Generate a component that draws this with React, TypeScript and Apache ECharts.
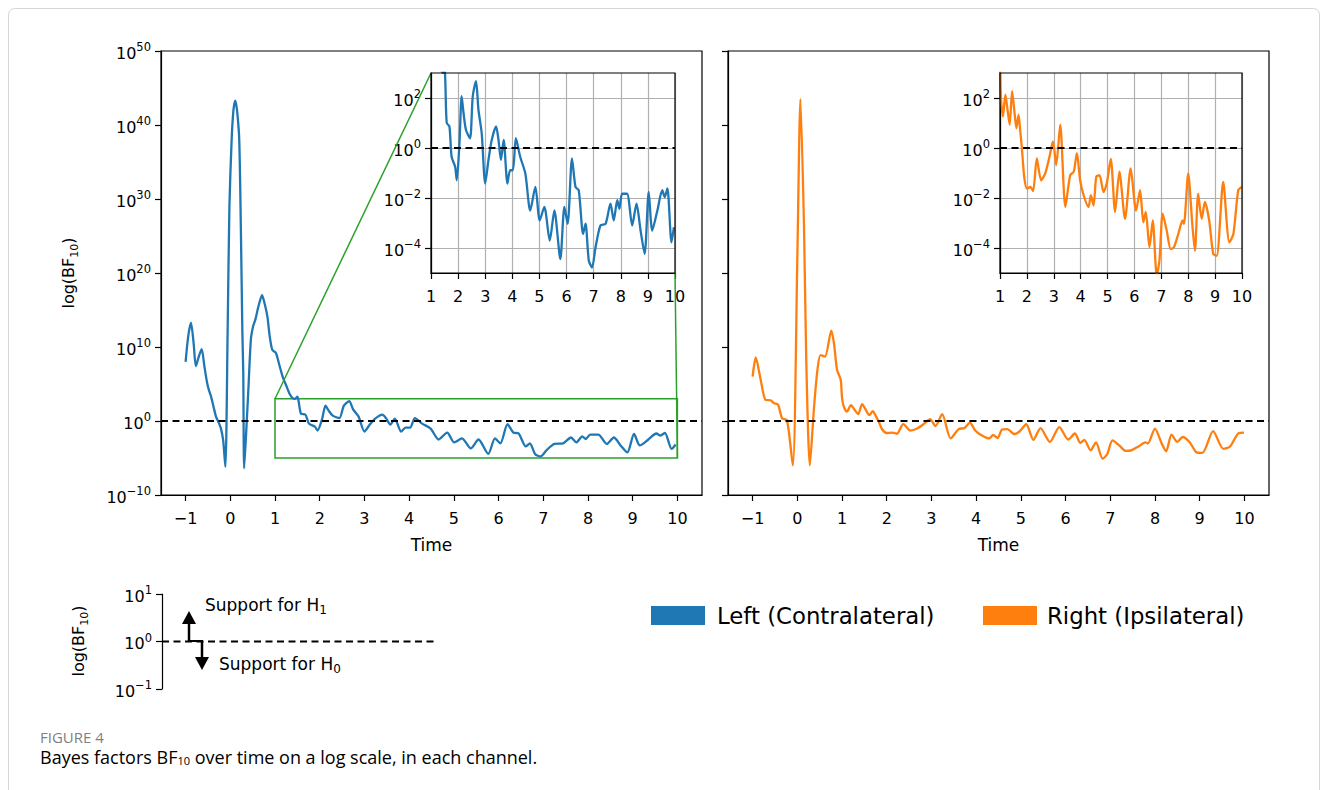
import React, { useEffect, useRef } from "react";
import * as echarts from "echarts";

// ---- data (log10 of BF10 over time) ----
const leftTime = [
  -1.0, -0.94, -0.88, -0.82, -0.77, -0.7, -0.64, -0.58, -0.52, -0.48, -0.43, -0.37, -0.32, -0.26, -0.21, -0.16,
  -0.11, -0.06, -0.02, 0.03, 0.07, 0.11, 0.15, 0.2, 0.24, 0.27, 0.29, 0.31, 0.36, 0.41, 0.46, 0.51, 0.56, 0.63,
  0.71, 0.77, 0.83, 0.88, 0.94, 1.02, 1.1, 1.17, 1.25, 1.32, 1.39, 1.45, 1.5, 1.53, 1.58, 1.68, 1.76, 1.89, 1.95,
  2.05, 2.13, 2.2, 2.29, 2.44, 2.54, 2.66, 2.75, 2.87, 3.0, 3.12, 3.24, 3.4, 3.49, 3.58, 3.68, 3.82, 3.92, 4.02,
  4.13, 4.29, 4.48, 4.66, 4.85, 5.01, 5.18, 5.38, 5.55, 5.77, 5.92, 6.04, 6.2, 6.33, 6.45, 6.61, 6.7, 6.82, 6.94,
  7.07, 7.25, 7.44, 7.62, 7.74, 7.87, 7.95, 8.05, 8.23, 8.42, 8.58, 8.73, 8.88, 9.03, 9.16, 9.35, 9.53, 9.62,
  9.72, 9.87, 9.96,
];
const leftLogBF = [
  8.0, 11.5, 13.3, 10.5, 7.4, 8.8, 9.7, 7.4, 5.2, 4.2, 3.3, 1.8, 0.6, -0.2, -1.0, -2.6,
  -6.2, 12, 29, 38, 42, 43.3, 42, 38, 24.5, 12, 6.5, -6.4, -1, 5, 11, 12.8, 13.7, 15.5,
  17, 15.8, 14.1, 11.5, 9.6, 9.2, 7.5, 6, 4.8, 3.75, 3.1, 3.0, 3.3, 2.6, 1.0, 0.86, -0.35, -0.75, -1.29,
  0.19, 2.07, 1.4, 0.72, 0.39, 2.07, 2.67, 1.53, 0.59, -1.42, -0.48, 0.32, 0.86, 0.32, -0.48, 0.32, -1.42, -0.89, -0.89,
  0.39, -0.35, -1.02, -2.5, -1.56, -2.9, -2.36, -3.7, -2.5, -4.44, -2.36, -3.03, -0.42, -1.56, -1.69, -3.44, -3.03, -4.5, -4.78,
  -3.97, -3.1, -3.03, -2.23, -2.9, -2.09, -2.43, -1.83, -1.83, -3.1, -2.23, -3.3, -4.24, -1.76, -3.3, -2.5, -1.69, -1.96,
  -1.62, -3.77, -3.17,
];
const rightTime = [
  -1.0, -0.93, -0.82, -0.71, -0.6, -0.52, -0.43, -0.34, -0.23, -0.1, 0.0, 0.07, 0.15, 0.2, 0.28, 0.37, 0.45, 0.52,
  0.62, 0.76, 0.82, 0.89, 0.97, 1.0, 1.04, 1.11, 1.2, 1.28, 1.36, 1.45, 1.53, 1.61, 1.69, 1.75, 1.82, 1.9, 2.0,
  2.13, 2.23, 2.37, 2.53, 2.68, 2.84, 2.97, 3.09, 3.24, 3.43, 3.61, 3.74, 3.86, 3.98, 4.11, 4.29, 4.38, 4.48,
  4.58, 4.7, 4.85, 4.97, 5.12, 5.28, 5.44, 5.65, 5.86, 6.06, 6.21, 6.33, 6.42, 6.56, 6.68, 6.83, 6.93, 7.05,
  7.2, 7.35, 7.47, 7.63, 7.79, 7.84, 8.0, 8.15, 8.25, 8.37, 8.5, 8.62, 8.78, 8.93, 9.06, 9.3, 9.53, 9.68, 9.86, 9.99,
];
const rightLogBF = [
  6.0, 8.6, 5.6, 2.85, 2.8, 2.4, 2.2, 0.36, 0.1, -6.0, 21.8, 43.5, 26.3, 8.3, -6, 1.5, 6.9, 8.9,
  8.7, 12.2, 10.5, 6.9, 5.6, 3.2, 1.93, 1.26, 2.13, 1.53, 0.93, 2.27, 1.53, 0.79, 1.33, 0.72, -0.08, -1.15, -1.62,
  -1.56, -1.72, -0.42, -1.29, -1.02, -0.35, 0.26, -0.68, 0.93, -2.36, -1.09, -0.95, -0.21, -1.29, -1.89, -2.36, -1.89, -2.3,
  -1.15, -1.09, -1.76, -1.42, -0.44, -2.56, -0.95, -2.83, -0.82, -2.5, -1.69, -2.97, -2.56, -3.97, -2.9, -5.1, -4.5, -2.63,
  -3.3, -4.04, -3.97, -3.44, -2.9, -3.03, -1.02, -3.03, -4.11, -1.83, -2.83, -2.16, -2.9, -4.24, -4.31, -1.36, -3.77, -3.44, -1.69, -1.56,
];

const mainXTicks = [-1, 0, 1, 2, 3, 4, 5, 6, 7, 8, 9, 10];
const mainYTicks = [-10, 0, 10, 20, 30, 40, 50];
const insetYTicks = [-4, -2, 0, 2];
const legendYTicks = [-1, 0, 1];
const seriesNames = ["Left (Contralateral)", "Right (Ipsilateral)"];
const captionLabel = "FIGURE 4";

const BLUE = "#1f77b4";
const ORANGE = "#ff7f0e";
const GREEN = "#2ca02c";
const FONT = "DejaVu Sans";

// ---- layout ----
const G_MAIN_L = { left: 161, top: 51, width: 541, height: 444 };
const G_MAIN_R = { left: 728, top: 51, width: 541, height: 444 };
const G_INS_L = { left: 431, top: 73, width: 244, height: 200 };
const G_INS_R = { left: 1000, top: 73, width: 242, height: 200 };
const G_LEG = { left: 162, top: 594, width: 275, height: 95 };

const minus = (s: string) => s.replace("-", "\u2212");
const powLabel = (v: number) => `{b|10}{s|${minus(String(v))}}`;
const powRich = {
  b: { fontFamily: FONT, fontSize: 16, color: "#000", lineHeight: 20, verticalAlign: "bottom" },
  s: { fontFamily: FONT, fontSize: 11.5, color: "#000", lineHeight: 10, verticalAlign: "top" },
};

const tickStyle = { color: "#000", width: 1.2 };

function xAxisDef(gridIndex: number, min: number, max: number, opts: any = {}) {
  return {
    type: "value",
    gridIndex,
    min,
    max,
    axisLine: { show: true, onZero: false, lineStyle: tickStyle },
    axisTick: { show: true, length: 6, lineStyle: tickStyle, ...(opts.tick || {}) },
    axisLabel: {
      show: opts.labelShow !== false,
      fontFamily: FONT,
      fontSize: 16,
      color: "#000",
      margin: 15,
      formatter: (v: number) => minus(String(v)),
      ...(opts.label || {}),
    },
    splitLine: opts.split || { show: false },
    ...(opts.extra || {}),
  };
}

function yAxisDef(gridIndex: number, min: number, max: number, opts: any = {}) {
  return {
    type: "value",
    gridIndex,
    min,
    max,
    axisLine: { show: true, onZero: false, lineStyle: tickStyle },
    axisTick: { show: true, length: 6, lineStyle: tickStyle, ...(opts.tick || {}) },
    axisLabel: {
      show: opts.labelShow !== false,
      margin: 10,
      formatter: powLabel,
      rich: powRich,
      ...(opts.label || {}),
    },
    splitLine: opts.split || { show: false },
    ...(opts.extra || {}),
  };
}

const dashLine = () => ({
  silent: true,
  symbol: ["none", "none"],
  label: { show: false },
  lineStyle: { color: "#000", type: [7, 4.5], width: 2 },
  emphasis: { disabled: true },
  data: [{ yAxis: 0 }],
});

export default function App() {
  const ref = useRef<HTMLDivElement>(null);
  useEffect(() => {
    if (!ref.current) return;
    const chart = echarts.init(ref.current, null, { renderer: "svg" });
    const leftData = leftTime.map((t, i) => [t, leftLogBF[i]]);
    const rightData = rightTime.map((t, i) => [t, rightLogBF[i]]);
    const insetSplit = { show: true, lineStyle: { color: "#b0b0b0", width: 1.2 } };
    const SMOOTH = 0.25;

    const option: any = {
      animation: false,
      backgroundColor: "#fff",
      grid: [
        { ...G_MAIN_L, show: false },
        { ...G_MAIN_R, show: false },
        { ...G_INS_L, show: true, backgroundColor: "#fff", borderWidth: 0 },
        { ...G_INS_R, show: true, backgroundColor: "#fff", borderWidth: 0 },
        { ...G_LEG, show: false },
      ],
      xAxis: [
        xAxisDef(0, -1.55, 10.55, { tick: { customValues: mainXTicks }, label: { customValues: mainXTicks } }),
        xAxisDef(1, -1.55, 10.55, { tick: { customValues: mainXTicks }, label: { customValues: mainXTicks } }),
        xAxisDef(2, 1, 10, { extra: { interval: 1 }, split: insetSplit }),
        xAxisDef(3, 1, 10, { extra: { interval: 1 }, split: insetSplit }),
        { type: "value", gridIndex: 4, min: 0, max: 1, show: false },
      ],
      yAxis: [
        yAxisDef(0, -10, 50, { tick: { customValues: mainYTicks }, label: { customValues: mainYTicks } }),
        yAxisDef(1, -10, 50, { tick: { customValues: mainYTicks }, labelShow: false }),
        yAxisDef(2, -5, 3, {
          tick: { customValues: insetYTicks },
          label: { customValues: insetYTicks },
          split: insetSplit,
        }),
        yAxisDef(3, -5, 3, {
          tick: { customValues: insetYTicks },
          label: { customValues: insetYTicks },
          split: insetSplit,
        }),
        yAxisDef(4, -1, 1, { tick: { customValues: legendYTicks }, label: { customValues: legendYTicks } }),
      ],
      series: [
        {
          name: seriesNames[0],
          type: "line",
          xAxisIndex: 0,
          yAxisIndex: 0,
          data: leftData,
          smooth: SMOOTH,
          showSymbol: false,
          symbol: "none",
          lineStyle: { color: BLUE, width: 2.3 },
          itemStyle: { color: BLUE },
          markLine: dashLine(),
          markArea: {
            silent: true,
            itemStyle: { color: "rgba(0,0,0,0)", borderColor: GREEN, borderWidth: 1.5 },
            data: [[{ xAxis: 1, yAxis: -5 }, { xAxis: 10, yAxis: 3 }]],
          },
        },
        {
          name: seriesNames[1],
          type: "line",
          xAxisIndex: 1,
          yAxisIndex: 1,
          data: rightData,
          smooth: SMOOTH,
          showSymbol: false,
          symbol: "none",
          lineStyle: { color: ORANGE, width: 2.3 },
          itemStyle: { color: ORANGE },
          markLine: dashLine(),
        },
        {
          type: "line",
          xAxisIndex: 2,
          yAxisIndex: 2,
          data: leftData,
          smooth: SMOOTH,
          showSymbol: false,
          symbol: "none",
          clip: true,
          lineStyle: { color: BLUE, width: 2.3 },
          markLine: dashLine(),
        },
        {
          type: "line",
          xAxisIndex: 3,
          yAxisIndex: 3,
          data: rightData,
          smooth: SMOOTH,
          showSymbol: false,
          symbol: "none",
          clip: true,
          lineStyle: { color: ORANGE, width: 2.3 },
          markLine: dashLine(),
        },
        {
          type: "line",
          xAxisIndex: 4,
          yAxisIndex: 4,
          data: [
            [0, 0],
            [1, 0],
          ],
          showSymbol: false,
          symbol: "none",
          lineStyle: { color: "#000", type: [7, 4.5], width: 2 },
        },
      ],
    };
    chart.setOption(option);

    const px = (g: number, v: number[]) => chart.convertToPixel({ xAxisIndex: g, yAxisIndex: g }, v) as number[];
    const r1 = px(0, [1, 3]);
    const i1 = px(2, [1, 3]);
    const r2 = px(0, [10, -5]);
    const i2 = px(2, [10, -5]);

    const border = (g: any) => ({
      type: "rect",
      z: 50,
      silent: true,
      shape: { x: g.left, y: g.top, width: g.width, height: g.height },
      style: { fill: "none", stroke: "#000", lineWidth: 1.2 },
    });

    const txt = (x: number, y: number, text: string, extra: any = {}, rich: any = undefined, rot = 0) => ({
      type: "text",
      z: 60,
      silent: true,
      x,
      y,
      rotation: rot,
      style: {
        x: 0,
        y: 0,
        text,
        fill: "#000",
        fontFamily: FONT,
        fontSize: 16,
        align: "center",
        verticalAlign: "middle",
        textAlign: "center",
        textVerticalAlign: "middle",
        rich,
        ...extra,
      },
    });

    const subRich = (size: number, color = "#000", family = FONT) => ({
      a: { fontFamily: family, fontSize: size, color, lineHeight: size + 3, verticalAlign: "top" },
      u: {
        fontFamily: family,
        fontSize: Math.round(size * 0.7),
        color,
        lineHeight: size * 0.7 + 1,
        verticalAlign: "bottom",
      },
    });

    const graphics: any[] = [
      {
        type: "rect",
        z: 1,
        silent: true,
        shape: { x: 8.5, y: 8.5, width: 1311, height: 800, r: 6 },
        style: { fill: "none", stroke: "#d6d6d6", lineWidth: 1 },
      },
      border(G_MAIN_L),
      border(G_MAIN_R),
      border(G_INS_L),
      border(G_INS_R),
      {
        type: "line",
        z: 40,
        silent: true,
        shape: { x1: r1[0], y1: r1[1], x2: i1[0], y2: i1[1] },
        style: { stroke: GREEN, lineWidth: 1.5 },
      },
      {
        type: "line",
        z: 40,
        silent: true,
        shape: { x1: r2[0], y1: r2[1], x2: i2[0], y2: i2[1] },
        style: { stroke: GREEN, lineWidth: 1.5 },
      },
      // axis titles
      txt(G_MAIN_L.left + G_MAIN_L.width / 2, 545, "Time", { fontSize: 17 }),
      txt(G_MAIN_R.left + G_MAIN_R.width / 2, 545, "Time", { fontSize: 17 }),
      txt(70, G_MAIN_L.top + G_MAIN_L.height / 2, "{a|log(BF}{u|10}{a|)}", {}, subRich(16), Math.PI / 2),
      txt(80, 641, "{a|log(BF}{u|10}{a|)}", {}, subRich(16), Math.PI / 2),
      // support annotation
      txt(205, 606, "{a|Support for H}{u|1}", { align: "left", textAlign: "left" }, subRich(17)),
      txt(219, 665, "{a|Support for H}{u|0}", { align: "left", textAlign: "left" }, subRich(17)),
      {
        type: "line",
        z: 45,
        silent: true,
        shape: { x1: 189, y1: 641, x2: 189, y2: 623 },
        style: { stroke: "#000", lineWidth: 2.5 },
      },
      {
        type: "polygon",
        z: 45,
        silent: true,
        shape: { points: [[182, 624], [196, 624], [189, 611]] },
        style: { fill: "#000" },
      },
      {
        type: "line",
        z: 45,
        silent: true,
        shape: { x1: 202, y1: 641, x2: 202, y2: 658 },
        style: { stroke: "#000", lineWidth: 2.5 },
      },
      {
        type: "polygon",
        z: 45,
        silent: true,
        shape: { points: [[195, 657], [209, 657], [202, 670]] },
        style: { fill: "#000" },
      },
      {
        type: "line",
        z: 45,
        silent: true,
        shape: { x1: 188, y1: 641, x2: 203, y2: 641 },
        style: { stroke: "#000", lineWidth: 2 },
      },
      // legend
      {
        type: "rect",
        z: 45,
        silent: true,
        shape: { x: 651, y: 606, width: 54, height: 19 },
        style: { fill: BLUE },
      },
      txt(717, 616, seriesNames[0], { fontSize: 22.8, align: "left", textAlign: "left" }),
      {
        type: "rect",
        z: 45,
        silent: true,
        shape: { x: 983, y: 606, width: 54, height: 19 },
        style: { fill: ORANGE },
      },
      txt(1047, 616, seriesNames[1], { fontSize: 22.8, align: "left", textAlign: "left" }),
      // caption
      txt(40, 737, captionLabel, {
        fontSize: 15,
        fontFamily: "Open Sans",
        fill: "#808080",
        align: "left",
        textAlign: "left",
      }),
      txt(
        40,
        757,
        "{a|Bayes factors BF}{u|10}{a| over time on a log scale, in each channel.}",
        { align: "left", textAlign: "left" },
        {
          a: { fontFamily: "Open Sans", fontSize: 18, color: "#777777", lineHeight: 18, verticalAlign: "top" },
          u: { fontFamily: "Open Sans", fontSize: 11, color: "#777777", lineHeight: 12, verticalAlign: "bottom" },
        }
      ),
    ];
    chart.setOption({ graphic: graphics });

    return () => chart.dispose();
  }, []);
  return <div ref={ref} style={{ position: "absolute", left: 0, top: 0, width: 1328, height: 790 }} />;
}
